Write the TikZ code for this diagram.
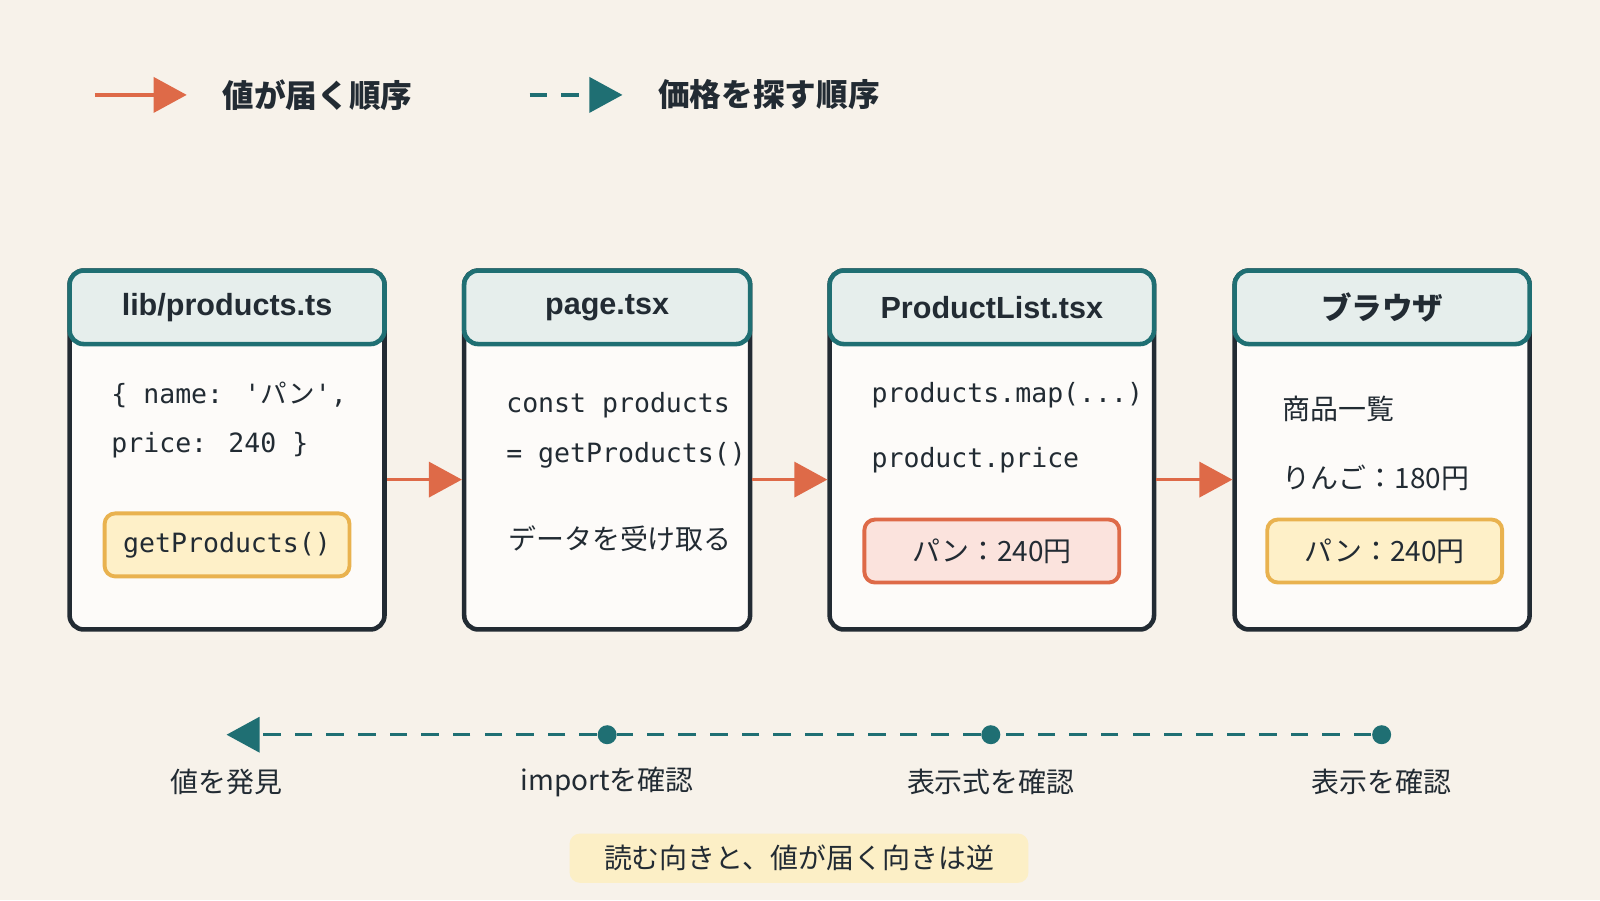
\documentclass[tikz,border=0pt]{standalone}
\usepackage{fontspec}
\setmainfont{Noto Sans CJK JP}
\newfontfamily\headfont{Liberation Sans}
\newfontfamily\codefont{DejaVu Sans Mono}
\newfontfamily\jpfont{Noto Sans CJK JP}
\usetikzlibrary{arrows.meta, positioning, calc}
\definecolor{bg}{HTML}{F7F2EA}
\definecolor{teal}{HTML}{1F6F73}
\definecolor{headfill}{HTML}{E6EEEC}
\definecolor{ink}{HTML}{222B33}
\definecolor{orng}{HTML}{DE6A48}
\definecolor{yelfill}{HTML}{FEF0C8}
\definecolor{yeldraw}{HTML}{E9B24F}
\definecolor{redfill}{HTML}{FBE3DD}
\definecolor{notefill}{HTML}{FCEFC6}
\tikzset{
  box/.style={draw=ink, line width=1.3pt, fill=white!70!bg, rounded corners=4pt, minimum height=3.59cm},
  head/.style={draw=teal, line width=1.3pt, fill=headfill, rounded corners=4pt, minimum height=0.735cm,
    anchor=north, font=\headfont\bfseries\fontsize{8.7}{10}\selectfont, text=ink},
  code/.style={anchor=west, font=\codefont\fontsize{7.55}{9}\selectfont, text=ink},
  txt/.style={font=\fontsize{7.95}{10}\selectfont, text=ink},
  chip/.style={draw=yeldraw, fill=yelfill, line width=1.1pt, rounded corners=3pt, minimum height=0.63cm},
  flow/.style={orng, line width=1pt, -{Triangle[length=0.33cm,width=0.35cm]}},
  look/.style={teal, line width=1pt, dash pattern=on 5pt off 4pt, -{Triangle[length=0.33cm,width=0.35cm]}},
  dot/.style={circle, fill=teal, inner sep=0pt, minimum size=0.19cm}
}
\begin{document}
\begin{tikzpicture}[x=0.010204cm, y=-0.010204cm]
  \fill[bg] (0,0) rectangle (1568,882);
  \useasboundingbox (0,0) rectangle (1568,882);
  % legend
  \coordinate (l1a) at (93,93); \coordinate (l1b) at (183,93);
  \draw[flow] (l1a) -- (l1b);
  \node[txt, anchor=west, font=\bfseries\fontsize{9}{11}\selectfont] (l1t) at (206,93) {値が届く順序};
  \coordinate (l2a) at (519,93); \coordinate (l2b) at (610,93);
  \draw[look] (l2a) -- (l2b);
  \node[txt, anchor=west, font=\bfseries\fontsize{9}{11}\selectfont] (l2t) at (633,93) {価格を探す順序};

  % boxes
  \node[box, minimum width=3.15cm] (b1) at (222.5,441) {};
  \node[head, minimum width=3.15cm] (h1) at (b1.north) {lib/products.ts};
  \node[box, minimum width=2.86cm] (b2) at (595,441) {};
  \node[head, minimum width=2.86cm] (h2) at (b2.north) {page.tsx};
  \node[box, minimum width=3.245cm] (b3) at (972,441) {};
  \node[head, minimum width=3.245cm] (h3) at (b3.north) {ProductList.tsx};
  \node[box, minimum width=2.95cm] (b4) at (1354.5,441) {};
  \node[head, minimum width=2.95cm, font=\bfseries\fontsize{8.7}{10}\selectfont] (h4) at (b4.north) {ブラウザ};

  % box contents
  \node[code] (c11) at (97,387) {\{ name: '{\jpfont パン}',};
  \node[code] (c12) at (97,436) {price: 240 \}};
  \node[chip, minimum width=2.45cm, font=\codefont\fontsize{7.55}{9}\selectfont, text=ink] (c13) at (222.5,534) {getProducts()};
  \node[code] (c21) at (484,397) {const products};
  \node[code] (c22) at (484,446) {= getProducts()};
  \node[txt, anchor=west] (c23) at (486,528) {データを受け取る};
  \node[code] (c31) at (842,387) {products.map(...)};
  \node[code] (c32) at (842,451) {product.price};
  \node[chip, draw=orng, fill=redfill, minimum width=2.55cm, txt] (c33) at (972,540) {パン：240円};
  \node[txt, anchor=west] (c41) at (1245,401) {商品一覧};
  \node[txt, anchor=west] (c42) at (1245,468) {りんご：180円};
  \node[chip, minimum width=2.35cm, txt] (c43) at (1357,540) {パン：240円};

  % value flow
  \draw[flow] ([yshift=-0.296cm]b1.east) -- ([yshift=-0.296cm]b2.west);
  \draw[flow] ([yshift=-0.296cm]b2.east) -- ([yshift=-0.296cm]b3.west);
  \draw[flow] ([yshift=-0.296cm]b3.east) -- ([yshift=-0.296cm]b4.west);

  % lookup order
  \node[dot] (d1) at (595,720) {};
  \node[dot] (d2) at (971,720) {};
  \node[dot] (d3) at (1354,720) {};
  \coordinate (d0) at (222,720);
  \draw[look] (d3) -- (d2) -- (d1) -- (d0);
  \node[txt] (t0) at (222,766) {値を発見};
  \node[txt] (t1) at (595,766) {importを確認};
  \node[txt] (t2) at (971,766) {表示式を確認};
  \node[txt] (t3) at (1354,766) {表示を確認};

  \node[txt, fill=notefill, rounded corners=3pt, minimum width=4.59cm, minimum height=0.47cm] (note) at (783,841) {読む向きと、値が届く向きは逆};
\end{tikzpicture}
\end{document}
